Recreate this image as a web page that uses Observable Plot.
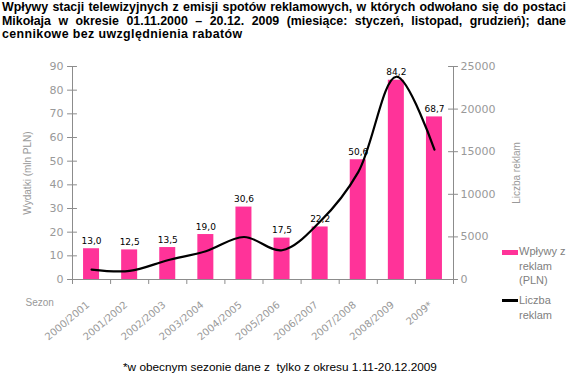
<!DOCTYPE html>
<html>
<head>
<meta charset="utf-8">
<script src="https://cdn.jsdelivr.net/npm/d3@7"></script>
<script src="https://cdn.jsdelivr.net/npm/@observablehq/plot@0.6"></script>
<style>
  html, body { margin: 0; padding: 0; background: #fff; }
  body { width: 573px; height: 378px; position: relative; overflow: hidden; font-family: "Liberation Sans", Arial, sans-serif; }
  #title { position: absolute; left: 2px; top: 1px; width: 564px; font-weight: bold; font-size: 12.4px; line-height: 13.5px; color: #000; }
  #title div { white-space: nowrap; }
  #chart { position: absolute; left: 0; top: 48px; }
  #foot { position: absolute; left: 123px; top: 360px; font-size: 11.8px; color: #000; white-space: nowrap; }
  .leg { position: absolute; font-size: 11px; line-height: 14.5px; color: #808080; }
  .sw { position: absolute; }
</style>
</head>
<body>
<div id="title">
  <div class="j">Wpływy stacji telewizyjnych z emisji spotów reklamowych, w których odwołano się do postaci</div>
  <div class="j">Mikołaja w okresie 01.11.2000 – 20.12. 2009 (miesiące: styczeń, listopad, grudzień); dane</div>
  <div style="letter-spacing:0.4px">cennikowe bez uwzględnienia rabatów</div>
</div>
<div id="chart"></div>
<div class="sw" style="left:502px;top:250px;width:16px;height:5px;background:#FF3399;"></div>
<div class="leg" style="left:519px;top:244px;">Wpływy z<br>reklam<br>(PLN)</div>
<div class="sw" style="left:502px;top:299px;width:16px;height:2.5px;background:#000;"></div>
<div class="leg" style="left:519px;top:293px;">Liczba<br>reklam</div>
<div id="foot">*w obecnym sezonie dane z&nbsp; tylko z okresu 1.11-20.12.2009</div>
<script>
// ---- data ----
const seasons = ["2000/2001", "2001/2002", "2002/2003", "2003/2004", "2004/2005", "2005/2006", "2006/2007", "2007/2008", "2008/2009", "2009*"];
const spending = [13.0, 12.5, 13.5, 19.0, 30.6, 17.5, 22.2, 50.6, 84.2, 68.7];      // mln PLN (left axis)
const adCounts = [1170, 1010, 2260, 3320, 4990, 3430, 6800, 12600, 23800, 15240];    // liczba reklam (right axis)
const leftTicks = [0, 10, 20, 30, 40, 50, 60, 70, 80, 90];
const rightTicks = [0, 5000, 10000, 15000, 20000, 25000];
const boundaries = [0, 1, 2, 3, 4, 5, 6, 7, 8, 9, 10];

// justify title lines
document.querySelectorAll("#title .j").forEach(el => {
  const span = document.createElement("span");
  span.textContent = el.textContent;
  el.textContent = "";
  el.appendChild(span);
  const w = span.getBoundingClientRect().width;
  const spaces = (span.textContent.match(/ /g) || []).length;
  el.style.wordSpacing = ((564 - w) / spaces) + "px";
});

const LEFT_MAX = 90, RIGHT_MAX = 25000;
const ratio = LEFT_MAX / RIGHT_MAX;
const rows = seasons.map((s, i) => ({
  i, season: s, spending: spending[i], count: adCounts[i],
  label: spending[i].toFixed(1).replace(".", ",")
}));

const axisColor = "#8c8c8c";
const textColor = "#999999";

const chart = Plot.plot({
  width: 573,
  height: 300,
  marginLeft: 72,
  marginRight: 120,
  marginTop: 18,
  marginBottom: 69,
  style: { fontFamily: "'DejaVu Sans', sans-serif", background: "transparent", overflow: "visible" },
  x: { type: "linear", domain: [0, 10], axis: null },
  y: { domain: [0, LEFT_MAX] },
  marks: [
    Plot.rectY(rows, { x1: d => d.i + 0.29, x2: d => d.i + 0.71, y: "spending", fill: "#FF3399" }),
    Plot.ruleY([0], { stroke: axisColor }),
    Plot.ruleX([0], { y1: 0, y2: LEFT_MAX, stroke: axisColor }),
    Plot.ruleX([10], { y1: 0, y2: LEFT_MAX, stroke: axisColor }),
    Plot.ruleY(leftTicks, { y: d => d, x1: -0.13, x2: 0.13, stroke: axisColor }),
    Plot.ruleY(rightTicks, { y: d => d * ratio, x1: 9.87, x2: 10.13, stroke: axisColor }),
    Plot.ruleX(boundaries, { x: d => d, y1: 0, y2: -2.1, stroke: axisColor }),
    Plot.text(rows, { x: d => d.i + 0.5, y: "spending", text: "label", lineAnchor: "bottom", dy: -5, fontSize: 9, fill: "#000" }),
    Plot.line(rows, { x: d => d.i + 0.5, y: d => d.count * ratio, curve: "catmull-rom", stroke: "#000", strokeWidth: 2.2 }),
    Plot.axisY({ ticks: leftTicks, tickSize: 0, tickPadding: 9, fontSize: 11, color: textColor, label: null }),
    Plot.axisY({ anchor: "right", ticks: rightTicks.map(v => v * ratio), tickFormat: d => String(Math.round(d / ratio)), tickSize: 0, tickPadding: 7, fontSize: 11, color: textColor, label: null }),
    // rotated category labels (x axis)
    Plot.text(rows, { x: d => d.i + 0.5, y: 0, text: "season", rotate: -40, textAnchor: "end", lineAnchor: "top", dy: 21, dx: -6, fontSize: 10, fill: textColor }),
    Plot.text(["Wydatki (mln PLN)"], { x: -1.18, y: 45, rotate: -90, fontSize: 10, fill: textColor, fontFamily: "'Liberation Sans', sans-serif" }),
    Plot.text(["Liczba reklam"], { x: 11.65, y: 45, rotate: -90, fontSize: 10, fill: textColor, fontFamily: "'Liberation Sans', sans-serif" }),
    Plot.text(["Sezon"], { frameAnchor: "bottom-left", dx: -47, dy: 26, textAnchor: "start", fontSize: 10, fill: textColor, fontFamily: "'Liberation Sans', sans-serif" })
  ]
});
document.getElementById("chart").appendChild(chart);
</script>
</body>
</html>
